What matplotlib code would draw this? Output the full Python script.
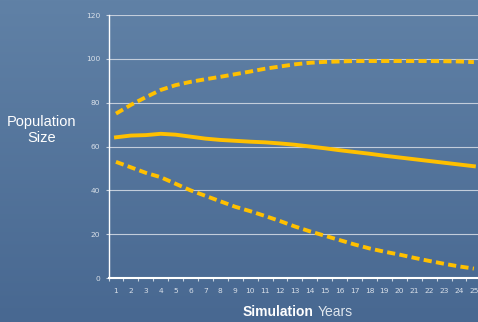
import numpy as np
import matplotlib
matplotlib.use("Agg")
import matplotlib.pyplot as plt

# simulation data
years = list(range(1, 26))
upper = [75, 79, 82.5, 85.8, 88, 89.5, 90.7, 91.8, 93, 94.2, 95.5, 96.5, 97.5,
         98.2, 98.6, 98.8, 99, 99, 99, 99, 99, 99, 98.9, 98.8, 98.5]
middle = [64.2, 65, 65.2, 65.8, 65.4, 64.5, 63.6, 63, 62.6, 62.2, 61.9, 61.4, 60.8,
          60, 59.2, 58.3, 57.5, 56.7, 55.8, 55, 54.2, 53.4, 52.6, 51.8, 51]
lower = [53, 50.5, 48, 46, 43, 40, 37.5, 35, 32.5, 30.5, 28.3, 26, 23.5,
         21.3, 19.3, 17.3, 15.3, 13.5, 12, 10.7, 9.2, 7.8, 6.5, 5.3, 4.3]
yticks = [0, 20, 40, 60, 80, 100, 120]

gold = "#FFC000"
ticklab = "#d8dfe8"

fig = plt.figure(figsize=(4.78, 3.22), dpi=100)

# background gradient
bg = fig.add_axes([0, 0, 1, 1], zorder=-1)
grad = np.linspace(0, 1, 256).reshape(-1, 1)
top = np.array([96, 129, 166]) / 255
bot = np.array([72, 104, 145]) / 255
img = top[None, None, :] * (1 - grad[:, :, None]) + bot[None, None, :] * grad[:, :, None]
bg.imshow(img, aspect="auto", extent=[0, 1, 0, 1])
bg.axis("off")

ax = fig.add_axes([0.227, 0.1366, 0.780, 0.8168])
ax.patch.set_alpha(0)

ax.plot(years, upper, color=gold, lw=2.8, dashes=(2.1, 1.1))
ax.plot(years, middle, color=gold, lw=2.8)
ax.plot(years, lower, color=gold, lw=2.8, dashes=(2.1, 1.1))

ax.set_xlim(0.5, 25.5)
ax.set_ylim(0, 120)
ax.set_yticks(yticks)
ax.set_xticks(years)
ax.set_xticks(np.arange(0.5, 26, 1), minor=True)
ax.grid(axis="y", color="#c3cddb", lw=0.8)
ax.set_axisbelow(True)

for s in ["top", "right"]:
    ax.spines[s].set_visible(False)
ax.spines["left"].set_color("white")
ax.spines["bottom"].set_color("white")
ax.spines["left"].set_linewidth(1.0)
ax.spines["bottom"].set_linewidth(1.5)

ax.tick_params(axis="x", which="major", length=0, pad=7, labelsize=5.4, labelcolor=ticklab)
ax.tick_params(axis="x", which="minor", length=2.5, width=0.8, color="#c9d3df")
ax.tick_params(axis="y", length=2.5, width=0.8, color="#c9d3df", pad=3.5,
               labelsize=5.4, labelcolor=ticklab)

fig.text(42 / 478, 1 - 130 / 322, "Population\nSize", ha="center", va="center",
         fontsize=10.5, color="white", family="Liberation Sans", linespacing=1.2)
fig.text(243 / 478, 1 - 312 / 322, "Simulation", ha="left", va="center",
         fontsize=10, fontweight="bold", color="white", family="Liberation Sans")
fig.text(318 / 478, 1 - 312 / 322, "Years", ha="left", va="center",
         fontsize=10, color="#dfe6ee", family="Liberation Sans")

fig.savefig("out.png", dpi=100)
